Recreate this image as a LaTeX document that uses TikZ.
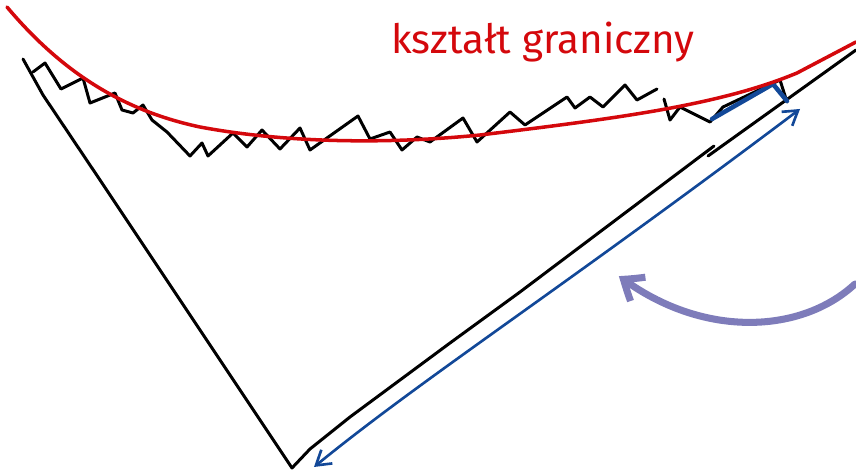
\documentclass[tikz,border=0pt]{standalone}
\usepackage{fontspec}
\setsansfont{Fira Sans}
\usepackage{tikz}
\usepackage{xcolor}
\usetikzlibrary{arrows.meta,bending}
\definecolor{limred}{RGB}{212,8,12}
\definecolor{inkblue}{RGB}{18,72,152}
\definecolor{lilac}{RGB}{126,124,186}

\begin{document}
\begin{tikzpicture}[x=0.02cm,y=-0.02cm,line cap=round,line join=round,
  ink/.style={line width=1.7pt,black},
  limitline/.style={line width=2pt,limred}]
\useasboundingbox(0,0)rectangle(856,476);
% wedge
\draw[ink](23,59)--(43,95)--(100,180)--(292,468)--(310,449)--(350,417)--(450,343)--(520,292)--(714,146);
\draw[ink](708,156)--(856,50);
% rough upper edge
\draw[ink](33,72)--(45,63)--(61,89)--(83,78)--(90,103)--(115,93)--(122,110)--(133,113)--(143,105)
--(152,120)--(167,132)--(190,156)--(202,143)--(208,156)--(233,133)--(247,147)--(262,130)--(280,149)
--(300,128)--(310,150)--(358,116)--(370,139)--(390,132)--(402,150)--(417,137)--(430,142)
--(463,118)--(477,142)--(510,112)--(525,125)--(567,97)--(575,108)--(590,97)--(603,107)--(625,85)
--(637,100)--(657,89);
\draw[ink](664,99)--(670,120)--(680,107)--(710,122)--(723,107)--(780,80)--(787,102);
\draw[inkblue,line width=2.6pt](712,119)--(773,84)--(787,101);
% limit shape
\draw[limitline](7,7)..controls(60,70)and(120,110)..(200,127)
..controls(280,142)and(380,145)..(480,135)
..controls(620,118)and(720,105)..(797,73)--(856,42);
\node[limred,font=\sffamily\fontsize{23}{26}\selectfont](title)at(543,42){kształt graniczny};
% length arrow
\draw[inkblue,line width=1.5pt,{Straight Barb[length=8pt,width=10pt,bend]}-{Straight Barb[length=8pt,width=10pt,bend]}]
(314,467)..controls(420,380)and(560,290)..(800,109);
% rotation arrow
\draw[lilac,line width=4pt,-{Straight Barb[length=10pt,width=16pt,bend]}]
(855,284)..controls(800,335)and(700,338)..(619,276);
\end{tikzpicture}
\end{document}
